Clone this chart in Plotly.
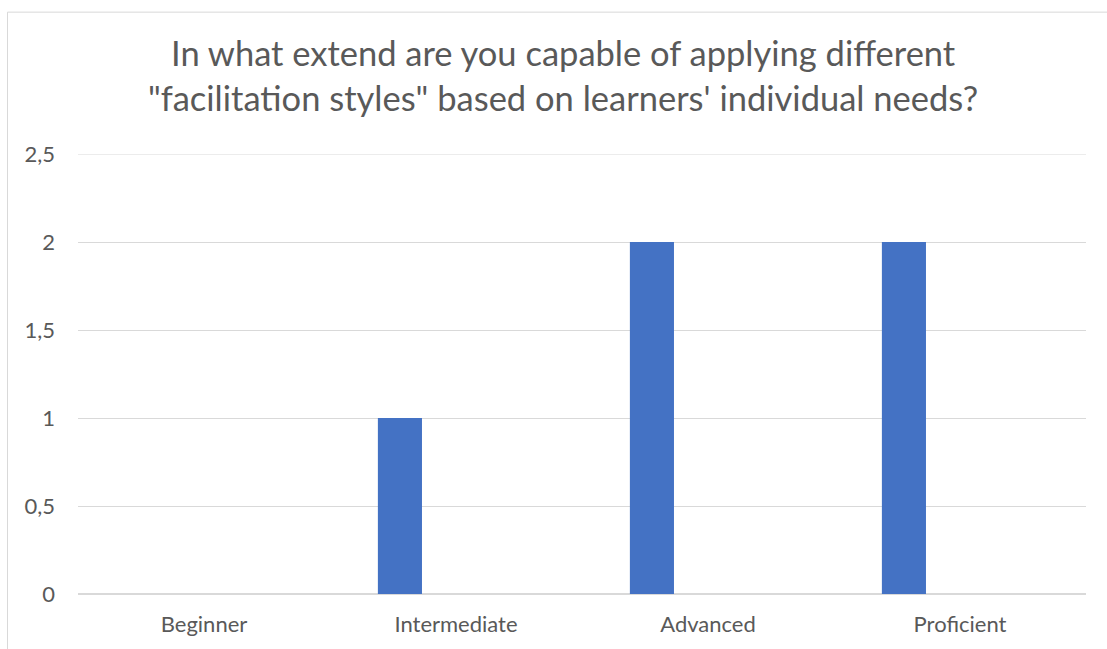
import plotly.graph_objects as go

categories = ["Beginner", "Intermediate", "Advanced", "Proficient"]
counts = [0, 1, 2, 2]
y_ticks = [0, 0.5, 1, 1.5, 2, 2.5]

W, H = 1107, 649
L, R, T, B = 78, 21, 154, 53
plot_w = W - L - R
plot_h = H - T - B
FONT = "Lato, Open Sans, sans-serif"
TEXT = "#595959"
GRID = "#d9d9d9"

def px_x(p):
    return (p - L) / plot_w

def px_y(p):
    return (H - B - p) / plot_h

fig = go.Figure()
fig.add_trace(go.Bar(
    x=categories,
    y=counts,
    marker=dict(color="#4472C4", line=dict(width=0)),
    width=0.175,
    offset=-0.31,
))

fig.update_layout(
    width=W,
    height=H,
    margin=dict(l=L, r=R, t=T, b=B),
    paper_bgcolor="white",
    plot_bgcolor="white",
    separators=", ",
    showlegend=False,
    title=dict(
        text="In what extend are you capable of applying different<br>\"facilitation styles\" based on learners' individual needs?",
        x=0.5087,
        xanchor="center",
        y=1 - 66 / H,
        yanchor="top",
        font=dict(family=FONT, size=34.5, color=TEXT),
    ),
    font=dict(family=FONT, size=22, color=TEXT),
    xaxis=dict(
        showgrid=False,
        showline=False,
        ticks="",
        ticklabelstandoff=15,
        tickfont=dict(family=FONT, size=22, color=TEXT),
    ),
    yaxis=dict(
        range=[0, y_ticks[-1]],
        tickvals=y_ticks,
        ticktext=[f"{v:g}".replace(".", ",") for v in y_ticks],
        showgrid=True,
        gridcolor=GRID,
        gridwidth=1,
        zeroline=True,
        zerolinecolor=GRID,
        showline=False,
        ticks="",
        ticklabelstandoff=22,
        tickfont=dict(family=FONT, size=22, color=TEXT),
    ),
    shapes=[
        # gridline at the top of the value range (plotly drops edge gridlines)
        dict(type="line", xref="paper", yref="y",
             x0=0, x1=1, y0=y_ticks[-1], y1=y_ticks[-1],
             line=dict(color=GRID, width=1), layer="below"),
        # chart frame
        dict(type="line", xref="paper", yref="paper",
             x0=px_x(7.5), x1=px_x(7.5), y0=px_y(11.5), y1=px_y(H + 5),
             line=dict(color=GRID, width=1)),
        dict(type="line", xref="paper", yref="paper",
             x0=px_x(7.5), x1=px_x(W + 5), y0=px_y(11.5), y1=px_y(11.5),
             line=dict(color=GRID, width=1)),
    ],
)

fig.write_html("out.html")
